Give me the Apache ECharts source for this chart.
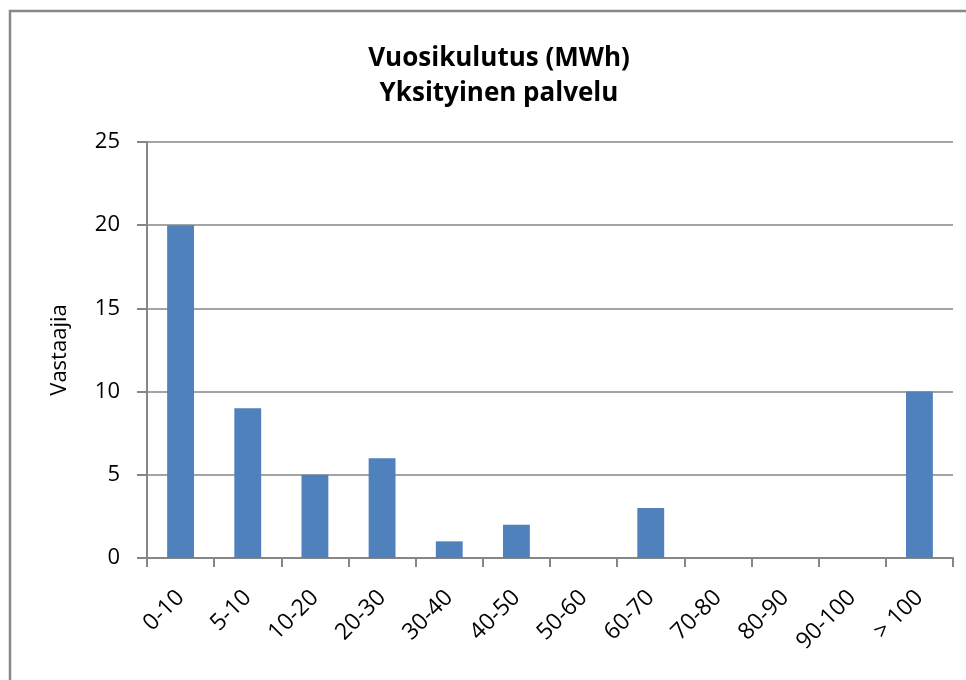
<!DOCTYPE html>
<html>
<head>
<meta charset="utf-8">
<script src="https://cdn.jsdelivr.net/npm/echarts@6/dist/echarts.min.js"></script>
<style>
  html, body { margin: 0; padding: 0; background: #fff; }
  #main { width: 966px; height: 680px; }
</style>
</head>
<body>
<div id="main"></div>
<script>
// luokat ja arvot
const categories = ['0-10', '5-10', '10-20', '20-30', '30-40', '40-50', '50-60', '60-70', '70-80', '80-90', '90-100', '> 100']
const respondents = [20, 9, 5, 6, 1, 2, 0, 3, 0, 0, 0, 10]
const titleLines = ['Vuosikulutus (MWh)', 'Yksityinen palvelu']
const yName = 'Vastaajia'

const dom = document.querySelector('#main')
const myChart = echarts.init(dom)

const option = {
  animation: false,
  // kehys
  graphic: [{
    type: 'rect',
    shape: { x: 10, y: 11, width: 1200, height: 1200 },
    style: { fill: 'none', stroke: '#888', lineWidth: 2.5 }
  }],
  title: {
    text: titleLines.join('\n'),
    left: 494,
    textAlign: 'center',
    top: 36,
    textStyle: {
      fontFamily: 'Open Sans',
      fontWeight: 'bold',
      fontSize: 26,
      lineHeight: 35,
      color: '#000'
    }
  },
  grid: {
    left: 147,
    right: 13,
    top: 142,
    bottom: 122
  },
  xAxis: {
    type: 'category',
    data: categories,
    axisLine: { lineStyle: { color: '#868686', width: 2 } },
    axisTick: { show: true, length: 9, alignWithLabel: false, lineStyle: { color: '#868686', width: 2 } },
    axisLabel: {
      rotate: 45,
      margin: 36,
      fontFamily: 'Open Sans',
      fontSize: 23,
      color: '#000'
    }
  },
  yAxis: {
    type: 'value',
    min: 0,
    max: 25,
    interval: 5,
    name: yName,
    nameLocation: 'middle',
    nameGap: 76,
    nameTextStyle: { fontFamily: 'Open Sans', fontSize: 22, color: '#000' },
    axisLine: { show: true, lineStyle: { color: '#868686', width: 2 } },
    axisTick: { show: true, length: 10, lineStyle: { color: '#868686', width: 2 } },
    splitLine: { lineStyle: { color: '#868686', width: 1.5 } },
    axisLabel: {
      margin: 27,
      fontFamily: 'Open Sans',
      fontSize: 22,
      color: '#000'
    }
  },
  series: [{
    type: 'bar',
    data: respondents,
    barWidth: '40%',
    itemStyle: { color: '#4F81BD' }
  }]
}

myChart.setOption(option)
</script>
</body>
</html>
